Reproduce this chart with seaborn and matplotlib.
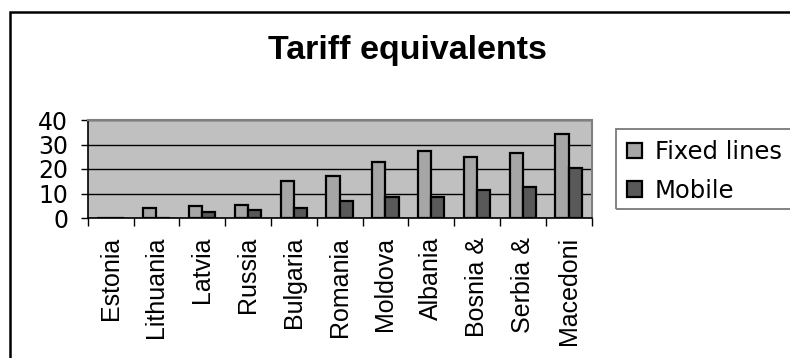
import matplotlib
matplotlib.use("Agg")
import matplotlib.pyplot as plt
from matplotlib.patches import Rectangle
from matplotlib.ticker import FixedLocator
import pandas as pd
import seaborn as sns

countries = ["Estonia", "Lithuania", "Latvia", "Russia", "Bulgaria", "Romania",
             "Moldova", "Albania", "Bosnia &", "Serbia &", "Macedoni"]
fixed_lines = [0, 4, 4.7, 5.5, 15, 17, 22.7, 27.3, 25, 26.6, 34.3]
mobile = [0, 0, 2.5, 3.3, 3.9, 7.1, 8.5, 8.5, 11.6, 12.5, 20.4]
series_names = ["Fixed lines", "Mobile"]
y_ticks = [0, 10, 20, 30, 40]

df = pd.DataFrame({
    "country": countries * 2,
    "value": fixed_lines + mobile,
    "series": [series_names[0]] * len(countries) + [series_names[1]] * len(countries),
})

sns.set_theme(style="white")
plt.rcParams["font.family"] = ["DejaVu Sans"]
plt.rcParams["text.color"] = "black"
plt.rcParams["xtick.color"] = "black"
plt.rcParams["ytick.color"] = "black"
plt.rcParams["axes.labelcolor"] = "black"

fig = plt.figure(figsize=(7.9, 3.58), dpi=100)
fig.patch.set_facecolor("white")
ax = fig.add_axes([87.7 / 790, 1 - 218 / 358, (591.5 - 87.7) / 790, (218 - 120) / 358])
ax.set_facecolor("#c0c0c0")

sns.barplot(data=df, x="country", y="value", hue="series",
            palette=["#a6a6a6", "#595959"], width=0.58, gap=0,
            edgecolor="black", linewidth=1.6, ax=ax, zorder=3)

ax.set_xlim(-0.5, len(countries) - 0.5)
ax.set_ylim(0, 40)
ax.set_yticks(y_ticks)
ax.set_xlabel("")
ax.set_ylabel("")
ax.grid(axis="y", color="black", linewidth=1.0, zorder=1)
ax.set_axisbelow(True)

# category labels at centres, tick marks at boundaries
ax.set_xticks(range(len(countries)))
ax.set_xticklabels(countries, rotation=90, family=["Liberation Sans"], fontsize=18, color="black")
ax.xaxis.set_minor_locator(FixedLocator([i - 0.5 for i in range(len(countries) + 1)]))
ax.tick_params(axis="x", which="major", length=0, pad=13.5)
ax.tick_params(axis="x", which="minor", bottom=True, length=6, width=1.0, color="black", direction="out")
ax.tick_params(axis="y", which="major", left=True, length=5, width=1.0, color="black",
               direction="out", pad=9, labelsize=17, labelcolor="black")

for side in ["left", "bottom"]:
    ax.spines[side].set_color("black")
    ax.spines[side].set_linewidth(1.2)
for side in ["top", "right"]:
    ax.spines[side].set_color("#808080")
    ax.spines[side].set_linewidth(1.5)
    ax.spines[side].set_visible(True)

# legend entries, with a box that runs past the right edge of the canvas
handles, labels = ax.get_legend_handles_labels()
ax.legend(handles, labels, loc="upper left", bbox_to_anchor=(616 / 790, 1 - 129 / 358),
          bbox_transform=fig.transFigure, frameon=False, fontsize=17.5,
          handlelength=0.6, handleheight=0.6, handletextpad=0.55, labelspacing=0.6,
          borderpad=0.45, borderaxespad=0)
fig.patches.append(Rectangle((616 / 790, 1 - 209 / 358), 0.3, 80 / 358, transform=fig.transFigure,
                             fill=False, edgecolor="#7a7a7a", linewidth=1.3, zorder=5))

fig.text(407 / 790, 1 - 59.5 / 358, "Tariff equivalents", ha="center", va="baseline",
         fontsize=24.5, fontweight="bold", family=["Liberation Sans"], color="black")

# outer chart border (right and bottom edges run off the canvas)
top = 1 - 12.3 / 358
fig.patches.append(Rectangle((10 / 790, -0.2), 1.2, top + 0.2, transform=fig.transFigure,
                             fill=False, edgecolor="black", linewidth=1.8, zorder=10))

fig.savefig("out.png", dpi=100, facecolor="white")
